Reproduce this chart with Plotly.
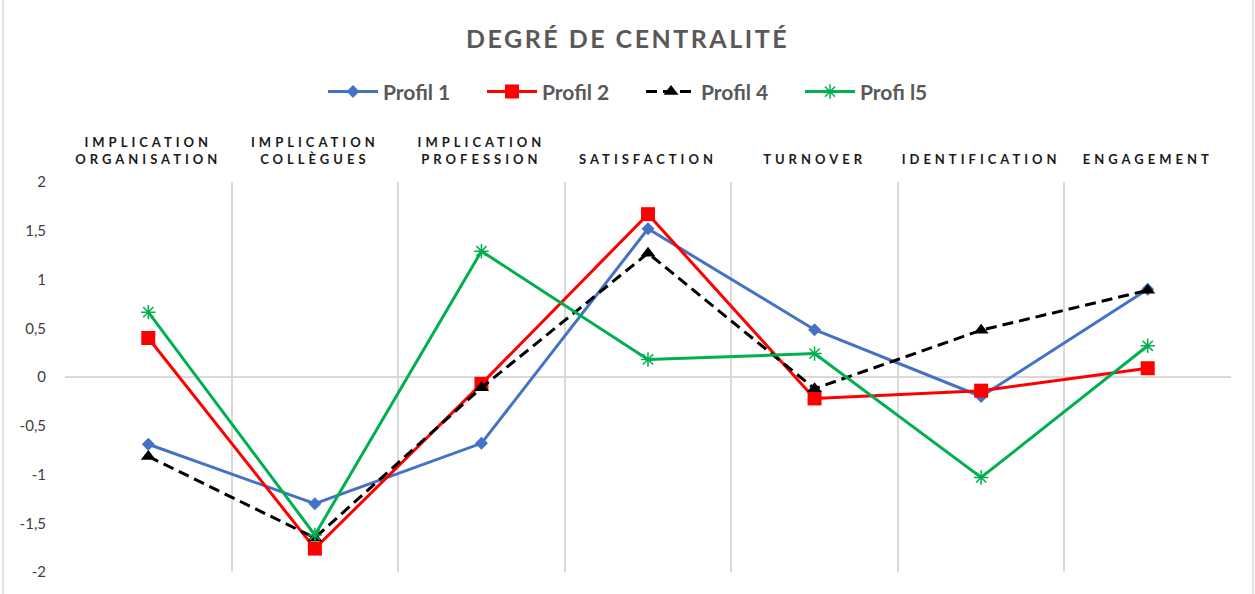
import plotly.graph_objects as go

# categories (x axis, shown on top)
categories = [
    "IMPLICATION<br>ORGANISATION",
    "IMPLICATION<br>COLLÈGUES",
    "IMPLICATION<br>PROFESSION",
    "SATISFACTION",
    "TURNOVER",
    "IDENTIFICATION",
    "ENGAGEMENT",
]

# series
profil_1 = [-0.69, -1.30, -0.68, 1.52, 0.485, -0.20, 0.90]
profil_2 = [0.40, -1.76, -0.07, 1.67, -0.22, -0.14, 0.09]
profil_4 = [-0.815, -1.65, -0.11, 1.27, -0.12, 0.48, 0.89]
profil_5 = [0.665, -1.62, 1.29, 0.18, 0.24, -1.03, 0.32]

# y ticks (comma decimal, plain hyphen)
y_tickvals = [2, 1.5, 1, 0.5, 0, -0.5, -1, -1.5, -2]
y_ticktext = ["2", "1,5", "1", "0,5", "0", "-0,5", "-1", "-1,5", "-2"]

series = [
    ("Profil 1", profil_1, "#4472C4", "solid", dict(symbol="diamond", size=10)),
    ("Profil 2", profil_2, "#FF0000", "solid", dict(symbol="square", size=14)),
    ("Profil 4", profil_4, "#000000", "11px,6px", dict(symbol="triangle-up", size=13)),
    ("Profi l5", profil_5, "#00B050", "solid",
     dict(symbol="asterisk-open", size=12, line=dict(width=1.5, color="#00B050"))),
]

fig = go.Figure()

for name, vals, color, dash, marker in series:
    fig.add_trace(go.Scatter(
        x=categories,
        y=vals,
        mode="lines+markers",
        name=name,
        line=dict(color=color, width=3, dash=dash),
        marker=dict(color=color, **marker),
    ))

fig.update_layout(
    width=1255,
    height=594,
    margin=dict(l=65, r=24, t=182, b=22),
    paper_bgcolor="white",
    plot_bgcolor="white",
    font=dict(family="Lato", color="#404040"),
    title=dict(
        text="DEGRÉ DE CENTRALITÉ",
        x=0.5, xanchor="center",
        y=1 - 39 / 594, yanchor="middle",
        font=dict(family="Lato", size=25, color="#595959", weight="bold"),
    ),
    legend=dict(
        orientation="h",
        x=0.494, xanchor="center",
        y=1.231, yanchor="middle",
        font=dict(family="Lato", size=21, color="#595959", weight="bold"),
        itemwidth=50,
        entrywidth=94,
        bgcolor="rgba(0,0,0,0)",
    ),
    showlegend=True,
)

fig.update_xaxes(
    type="category",
    side="top",
    range=[-0.5, len(categories) - 0.5],
    tickson="boundaries",
    showgrid=True,
    gridcolor="#D9D9D9",
    gridwidth=1.5,
    showline=False,
    ticks="",
    ticklabelstandoff=14,
    tickfont=dict(family="Lato", size=13, color="#1a1a1a", weight="bold"),
)

fig.update_yaxes(
    range=[-2, 2],
    tickvals=y_tickvals,
    ticktext=y_ticktext,
    showgrid=False,
    zeroline=True,
    zerolinecolor="#D9D9D9",
    zerolinewidth=1.5,
    showline=False,
    ticks="",
    ticklabelstandoff=18,
    tickfont=dict(family="Lato", size=15, color="#404040"),
)

# light chart frame like the spreadsheet one
fig.add_shape(
    type="rect", xref="paper", yref="paper",
    x0=-0.0532, x1=1.0189, y0=-0.07, y1=1.48,
    line=dict(color="#D9D9D9", width=1.5),
    layer="below",
)

page_js = """
document.body.style.margin = '0';
var gd = document.getElementById('{plot_id}');
function addSpacing() {
  gd.querySelectorAll('.xtick text').forEach(function (t) { t.style.letterSpacing = '4px'; });
  var tt = gd.querySelector('.gtitle');
  if (tt) { tt.style.letterSpacing = '2.5px'; }
}
addSpacing();
gd.on('plotly_afterplot', addSpacing);
"""

fig.write_html("out.html", post_script=page_js, config={"displayModeBar": False})
